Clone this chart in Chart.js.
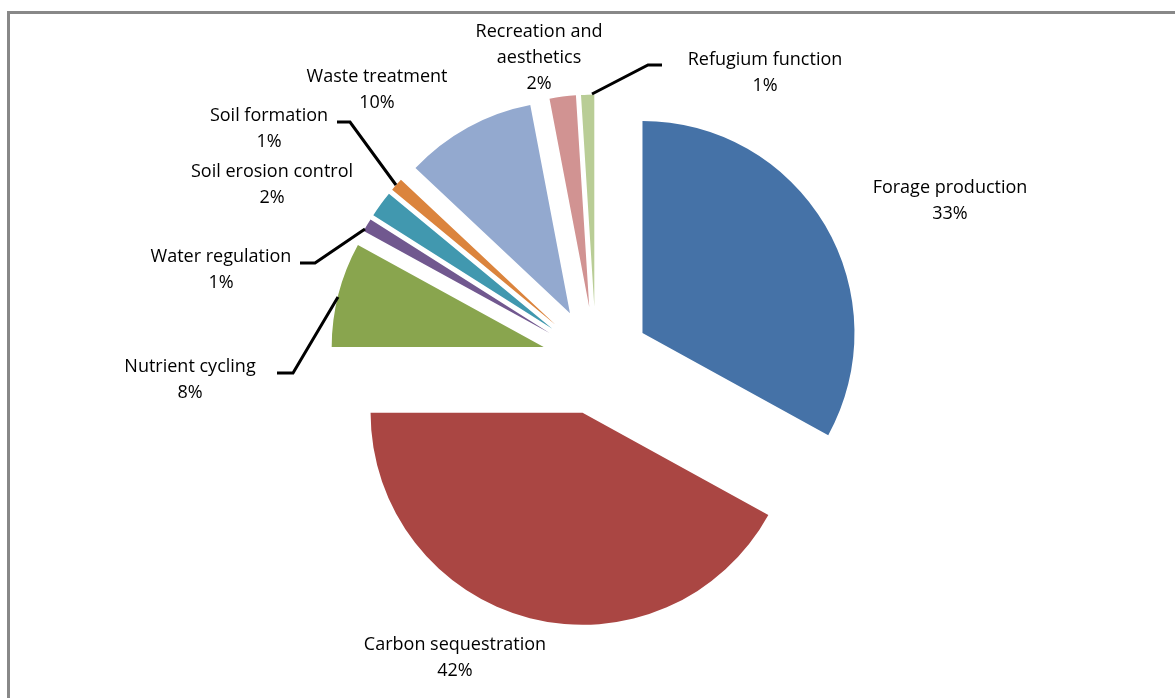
<!DOCTYPE html>
<html>
<head>
<meta charset="utf-8">
<script src="https://cdn.jsdelivr.net/npm/chart.js@4.4.1/dist/chart.umd.min.js"></script>
<style>
  html, body { margin: 0; padding: 0; background: #fff; }
  #wrap { position: relative; width: 1175px; height: 698px; overflow: hidden; }
  #frame { position: absolute; left: 7px; top: 11px; width: 1200px; height: 720px; border: 3px solid #888; box-sizing: border-box; }
  canvas { position: absolute; left: 0; top: 0; }
</style>
</head>
<body>
<div id="wrap">
  <div id="frame"></div>
  <canvas id="pieChart" width="1175" height="698"></canvas>
</div>
<script>
const categories = [
  'Forage production', 'Carbon sequestration', 'Nutrient cycling', 'Water regulation',
  'Soil erosion control', 'Soil formation', 'Waste treatment', 'Recreation and aesthetics',
  'Refugium function'
];
const shares = [33, 42, 8, 1, 2, 1, 10, 2, 1];
const sliceColors = [
  '#4572A7', '#AA4643', '#89A54E', '#71588F', '#4198AF',
  '#DB843D', '#93A9CF', '#D19392', '#B9CD96'
];

// label layout (text lines, centre point, optional leader line)
const labelLines = [
  ['Forage production', '33%'],
  ['Carbon sequestration', '42%'],
  ['Nutrient cycling', '8%'],
  ['Water regulation', '1%'],
  ['Soil erosion control', '2%'],
  ['Soil formation', '1%'],
  ['Waste treatment', '10%'],
  ['Recreation and', 'aesthetics', '2%'],
  ['Refugium function', '1%']
];
const labelPos = [
  [950, 188], [455, 645], [190, 367], [221, 257], [272, 172],
  [269, 116], [377, 77], [539, 32], [765, 60]
];
const leaders = [
  null, null,
  [[277, 373], [293, 373], [338, 297]],
  [[300, 263], [315, 263], [365, 229]],
  null,
  [[337, 122], [350, 122], [396, 185]],
  null, null,
  [[592, 94], [648, 65], [662, 65]]
];

const EXPLODE = 54;

// push every slice out along its mid angle (Excel style explode),
// without the radius growth Chart.js adds with its own `offset`
const explodePlugin = {
  id: 'explode',
  beforeDatasetsDraw(chart) {
    chart.getDatasetMeta(0).data.forEach(arc => {
      if (arc._exploded) return;
      const orig = arc.draw.bind(arc);
      arc.draw = function(ctx, area) {
        const mid = (this.startAngle + this.endAngle) / 2;
        ctx.save();
        ctx.translate(Math.cos(mid) * EXPLODE, Math.sin(mid) * EXPLODE);
        orig(ctx, area);
        ctx.restore();
      };
      arc._exploded = true;
    });
  }
};

const labelPlugin = {
  id: 'pieLabels',
  afterDraw(chart) {
    const ctx = chart.ctx;
    ctx.save();
    ctx.strokeStyle = '#000';
    ctx.lineWidth = 3;
    leaders.forEach(pts => {
      if (!pts) return;
      ctx.beginPath();
      ctx.moveTo(pts[0][0], pts[0][1]);
      for (let i = 1; i < pts.length; i++) ctx.lineTo(pts[i][0], pts[i][1]);
      ctx.stroke();
    });
    ctx.fillStyle = '#000';
    ctx.font = '18px "Open Sans", sans-serif';
    ctx.textAlign = 'center';
    ctx.textBaseline = 'middle';
    labelLines.forEach((lines, i) => {
      const [x, y] = labelPos[i];
      lines.forEach((t, j) => ctx.fillText(t, x, y + j * 26));
    });
    ctx.restore();
  }
};

new Chart(document.getElementById('pieChart'), {
  type: 'pie',
  data: {
    labels: categories,
    datasets: [{
      data: shares,
      backgroundColor: sliceColors,
      borderWidth: 0
    }]
  },
  options: {
    responsive: false,
    animation: false,
    radius: 212,
    layout: { padding: { left: 17, right: 0, top: 23, bottom: 0 } },
    plugins: {
      legend: { display: false },
      tooltip: { enabled: false }
    }
  },
  plugins: [explodePlugin, labelPlugin]
});
</script>
</body>
</html>
